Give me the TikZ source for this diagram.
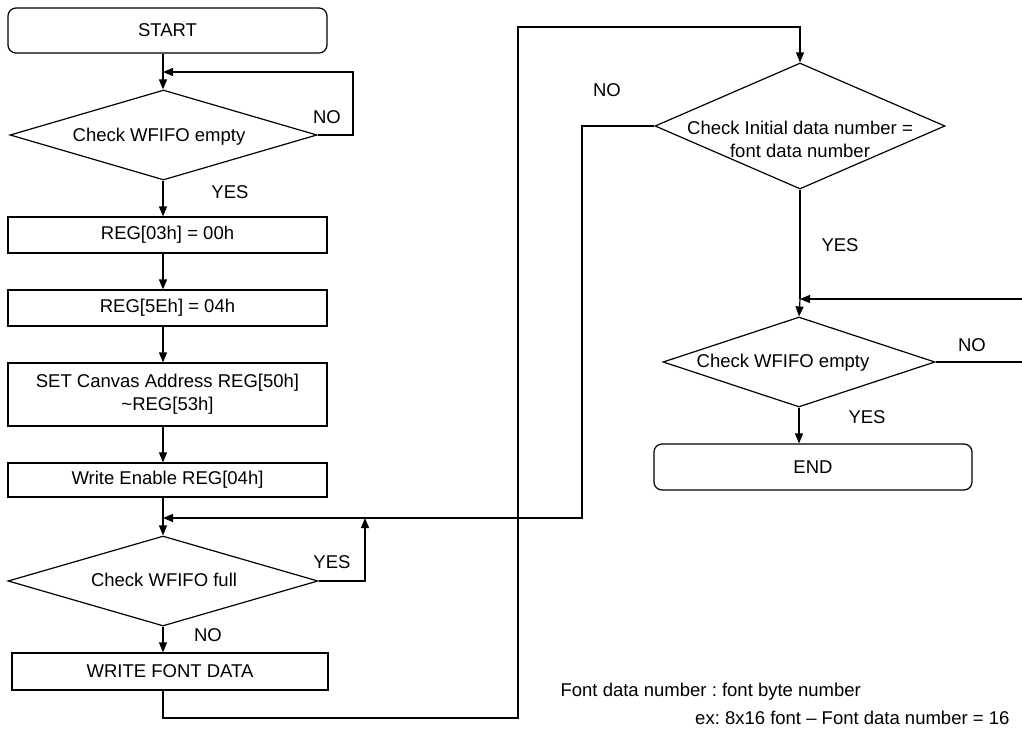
\documentclass[tikz,border=0pt]{standalone}
\usepackage{fontspec}
\setmainfont{Liberation Sans}
\usetikzlibrary{shapes.geometric,arrows.meta}
\frenchspacing
\begin{document}
\begin{tikzpicture}[x=1pt,y=-1pt,line width=1.2pt,
  font=\fontsize{18.5}{23}\selectfont,
  box/.style={draw,rectangle,inner sep=0pt,align=center},
  rbox/.style={box,rounded corners=8pt},
  dia/.style={draw,diamond,inner sep=0pt,aspect=3},
  arr/.style={-{Triangle[length=10pt,width=8pt]}},
  lbl/.style={inner sep=0pt}]
\useasboundingbox (0,0) rectangle (1022,736);
\coordinate (cL) at (163,0);
% left column
\node[rbox,minimum width=319pt,minimum height=45pt] (start) at (167.5,30.5) {START};
\node[dia,minimum width=307pt,minimum height=90pt] (d1) at (163.5,135) {};
\node[lbl] (d1t) at (159,137) {Check WFIFO empty};
\node[box,minimum width=319pt,minimum height=36pt] (reg03) at (167.5,235) {REG[03h] = 00h};
\node[box,minimum width=319pt,minimum height=36pt] (reg5e) at (167.5,308) {REG[5Eh] = 04h};
\node[box,minimum width=319pt,minimum height=63pt] (setc) at (167.5,394.5) {SET Canvas Address REG[50h]\\\textasciitilde REG[53h]};
\node[box,minimum width=319pt,minimum height=34pt] (wen) at (167.5,480) {Write Enable REG[04h]};
\node[dia,minimum width=310pt,minimum height=90pt] (d3) at (163,581) {};
\node[lbl] (d3t) at (164,580) {Check WFIFO full};
\node[box,minimum width=316pt,minimum height=37pt] (wfd) at (170,671.5) {WRITE FONT DATA};
% right column
\node[dia,minimum width=290pt,minimum height=126pt] (d2) at (800,126) {};
\node[lbl,align=center] (d2t) at (800,139) {Check Initial data number =\\font data number};
\node[dia,minimum width=272pt,minimum height=90pt] (d4) at (799,362) {};
\node[lbl] (d4t) at (783,363) {Check WFIFO empty};
\node[rbox,minimum width=318pt,minimum height=46pt] (endn) at (813,467) {END};
% labels
\node[lbl] (l1) at (327,117) {NO};
\node[lbl] (l2) at (230,192) {YES};
\node[lbl] (l3) at (332,562) {YES};
\node[lbl] (l4) at (208,635) {NO};
\node[lbl] (l5) at (607,90) {NO};
\node[lbl] (l6) at (840,245) {YES};
\node[lbl] (l7) at (972,345) {NO};
\node[lbl] (l8) at (867,417) {YES};
\node[lbl,anchor=west] (n1) at (560,692) {Font data number : font byte number};
\node[lbl,anchor=east] (n2) at (1010,718) {ex: 8x16 font -- Font data number = 16};
% coordinates
\coordinate (m1) at (163,72);
\coordinate (m2) at (163,518);
\coordinate (j1) at (365,518);
\coordinate (r1) at (582,518);
\coordinate (b1) at (518,718);
\coordinate (t1) at (518,27);
\coordinate (m3) at (800,299);
\coordinate (e1) at (1028,362);
\coordinate (e2) at (353,135);
% connectors
\draw[arr] (start.south -| cL) -- (d1.north -| cL);
\draw[arr] (d1.east) -- (e2) |- (m1);
\draw[arr] (d1.south -| cL) -- (reg03.north -| cL);
\draw[arr] (reg03.south -| cL) -- (reg5e.north -| cL);
\draw[arr] (reg5e.south -| cL) -- (setc.north -| cL);
\draw[arr] (setc.south -| cL) -- (wen.north -| cL);
\draw (wen.south -| cL) -- (m2);
\draw[arr] (m2) -- (d3.north -| cL);
\draw[arr] (d3.east) -| (j1);
\draw[arr] (d3.south -| cL) -- (wfd.north -| cL);
\draw[arr] (wfd.south -| cL) |- (b1) -- (t1) -| (d2.north);
\draw[arr] (d2.west) -| (r1) -- (m2);
\draw (d2.south) -- (m3);
\draw[arr] (m3) -- (d4.north);
\draw[arr] (d4.east) -- (e1) |- (m3);
\draw[arr] (d4.south) -- (endn.north -| d4.south);
\end{tikzpicture}
\end{document}
